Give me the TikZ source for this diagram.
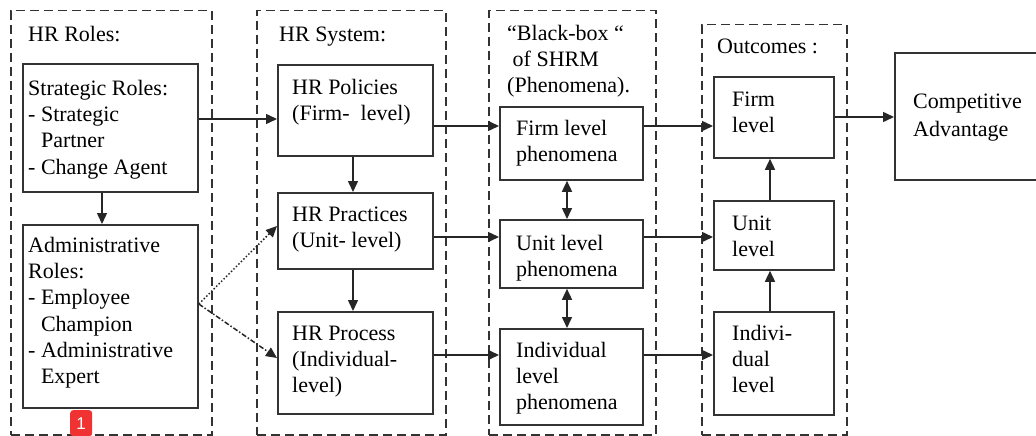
\documentclass[tikz,border=0pt]{standalone}
\usepackage{fontspec}
\setmainfont{Liberation Serif}
\newfontfamily\badgefont{Liberation Sans}
\usetikzlibrary{arrows.meta}
\newcommand{\fsz}{\fontsize{22}{26.3}\selectfont}
\newcommand{\fszb}{\fontsize{22}{28.8}\selectfont}
\begin{document}
\begin{tikzpicture}[x=1pt,y=-1pt,
  grp/.style={draw=black!80, line width=1.5pt, dash pattern=on 9pt off 5pt, anchor=north west, inner sep=0pt},
  box/.style={draw=black!80, line width=1.8pt, anchor=north west, inner sep=0pt},
  txt/.style={anchor=north west, inner sep=0pt, align=left, font=\fsz},
  arr/.style={line width=1.5pt, draw=black!85, -{Triangle[length=11pt,width=10pt]}},
  darr/.style={line width=1.5pt, draw=black!85, {Triangle[length=11pt,width=10pt]}-{Triangle[length=11pt,width=10pt]}}]
\useasboundingbox (0,0) rectangle (1036,436);
% groups
\node[grp, minimum width=201pt, minimum height=424pt] (g1) at (10,10) {};
\node[grp, minimum width=189pt, minimum height=424pt] (g2) at (256,10) {};
\node[grp, minimum width=167pt, minimum height=424pt] (g3) at (488,10) {};
\node[grp, minimum width=145pt, minimum height=410pt] (g4) at (701,24) {};
% boxes
\node[box, minimum width=175pt, minimum height=128pt] (strat) at (22,63) {};
\node[box, minimum width=175pt, minimum height=183pt] (admin) at (22,224) {};
\node[box, minimum width=155pt, minimum height=91pt] (pol) at (277,64) {};
\node[box, minimum width=155pt, minimum height=76pt] (prac) at (277,192) {};
\node[box, minimum width=155pt, minimum height=102pt] (proc) at (277,311) {};
\node[box, minimum width=143pt, minimum height=73pt] (fph) at (499,106) {};
\node[box, minimum width=143pt, minimum height=68pt] (uph) at (499,219) {};
\node[box, minimum width=143pt, minimum height=96pt] (iph) at (499,328) {};
\node[box, minimum width=120pt, minimum height=81pt] (fo) at (713,76) {};
\node[box, minimum width=120pt, minimum height=69pt] (uo) at (713,200) {};
\node[box, minimum width=120pt, minimum height=103pt] (io) at (713,311) {};
\node[box, minimum width=150pt, minimum height=127pt] (ca) at (894,52) {};
% texts (y = baseline - 18.4)
\node[txt] (t1) at (28,22.6) {\strut HR Roles:};
\node[txt] (t2) at (28,76.6) {\strut Strategic Roles:\\- Strategic\\\hphantom{-}\ Partner\\- Change Agent};
\node[txt] (t3) at (28,233.6) {\strut Administrative\\Roles:\\- Employee\\\hphantom{-}\ Champion\\- Administrative\\\hphantom{-}\ Expert};
\node[txt] (t4) at (279,22.6) {\strut HR System:};
\node[txt] (t5) at (292,75.6) {\strut HR Policies\\(Firm- \ level)};
\node[txt] (t6) at (292,202.6) {\strut HR Practices\\(Unit- level)};
\node[txt] (t7) at (292,321.6) {\strut HR Process\\(Individual-\\level)};
\node[txt] (t8) at (507,21.6) {\strut “Black-box “\\\ of SHRM\\(Phenomena).};
\node[txt] (t9) at (516,116.6) {\strut Firm level\\phenomena};
\node[txt] (t10) at (516,231.6) {\strut Unit level\\phenomena};
\node[txt] (t11) at (516,338.6) {\strut Individual\\level\\phenomena};
\node[txt] (t12) at (717,34.6) {\strut Outcomes :};
\node[txt] (t13) at (732,87.6) {\strut Firm\\level};
\node[txt] (t14) at (732,211.6) {\strut Unit\\level};
\node[txt] (t15) at (732,321.6) {\strut Indivi-\\dual\\level};
\node[txt, font=\fszb] (t16) at (913,87.8) {\strut Competitive\\Advantage};
% row / column helpers
\coordinate (rA) at (0,119);
\coordinate (r1) at (0,126);
\coordinate (r2) at (0,237);
\coordinate (r3) at (0,355);
\coordinate (rC) at (0,117);
\coordinate (rD) at (0,304);
\coordinate (rE) at (0,226);
\coordinate (rF) at (0,358);
\coordinate (c1) at (102,0);
\coordinate (c2) at (353,0);
\coordinate (c3) at (567,0);
\coordinate (c4) at (770,0);
% connectors
\draw[arr] (strat.east |- rA) -- (pol.west |- rA);
\draw[arr] (pol.east |- r1) -- (fph.west |- r1);
\draw[arr] (prac.east |- r2) -- (uph.west |- r2);
\draw[arr] (proc.east |- r3) -- (iph.west |- r3);
\draw[arr] (fph.east |- r1) -- (fo.west |- r1);
\draw[arr] (uph.east |- r2) -- (uo.west |- r2);
\draw[arr] (iph.east |- r3) -- (io.west |- r3);
\draw[arr] (fo.east |- rC) -- (ca.west |- rC);
\draw[arr] (strat.south -| c1) -- (admin.north -| c1);
\draw[arr] (pol.south -| c2) -- (prac.north -| c2);
\draw[arr] (prac.south -| c2) -- (proc.north -| c2);
\draw[darr] (fph.south -| c3) -- (uph.north -| c3);
\draw[darr] (uph.south -| c3) -- (iph.north -| c3);
\draw[arr] (uo.north -| c4) -- (fo.south -| c4);
\draw[arr] (io.north -| c4) -- (uo.south -| c4);
\coordinate (ad) at (admin.east |- rD);
\draw[arr, dotted] (ad) -- (prac.west |- rE);
\draw[arr, dash pattern=on 5pt off 2pt on 1.5pt off 2pt] (ad) -- (proc.west |- rF);
% badge
\node[fill={rgb,255:red,240;green,50;blue,50}, rounded corners=3pt, minimum width=22pt, minimum height=26pt, inner sep=0pt, anchor=north west, text=white, font=\badgefont\fontsize{17}{19}\selectfont] (badge) at (70,410) {1};
\end{tikzpicture}
\end{document}
